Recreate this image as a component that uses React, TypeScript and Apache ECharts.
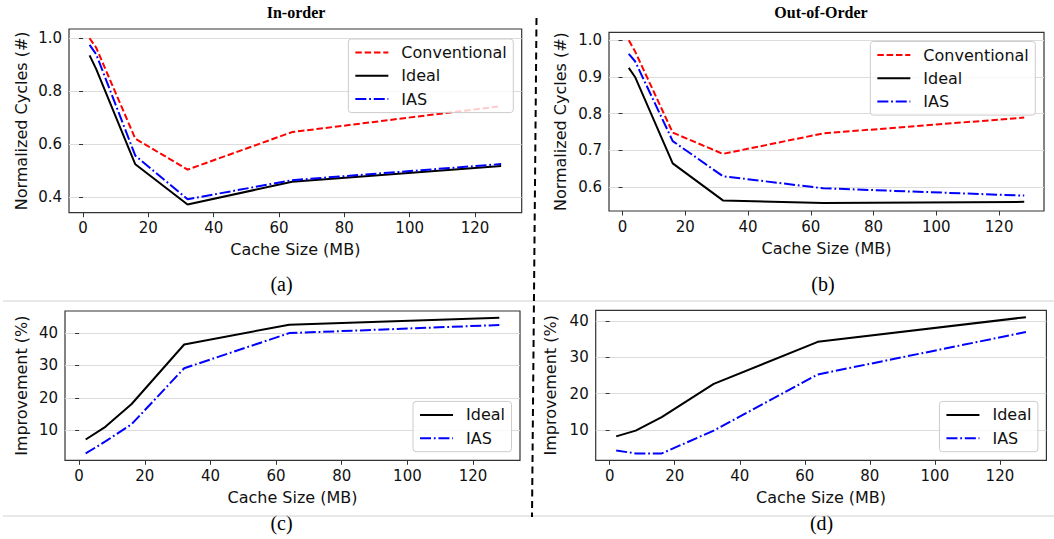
import React, { useEffect, useRef } from "react";
import * as echarts from "echarts";

// ---- data ----
const X_TOP = [2, 4, 16, 32, 64, 128];
const X_BOTTOM = [2, 8, 16, 32, 64, 128];

const A_CONVENTIONAL = [1.0, 0.965, 0.62, 0.503, 0.645, 0.743];
const A_IDEAL = [0.935, 0.884, 0.523, 0.371, 0.457, 0.517];
const A_IAS = [0.975, 0.94, 0.556, 0.391, 0.463, 0.524];

const B_CONVENTIONAL = [1.0, 0.97, 0.748, 0.69, 0.746, 0.789];
const B_IDEAL = [0.925, 0.9, 0.664, 0.563, 0.556, 0.559];
const B_IAS = [0.963, 0.943, 0.725, 0.629, 0.596, 0.576];

const C_IDEAL = [7.2, 11.1, 18.1, 36.4, 42.5, 44.6];
const C_IAS = [2.9, 6.6, 11.9, 29.1, 39.9, 42.4];

const D_IDEAL = [8.2, 9.8, 13.5, 22.7, 34.3, 41.1];
const D_IAS = [4.3, 3.5, 3.5, 9.8, 25.3, 37.0];

const X_TICKS = [0, 20, 40, 60, 80, 100, 120];
const A_Y_TICKS = [0.4, 0.6, 0.8, 1.0];
const B_Y_TICKS = [0.6, 0.7, 0.8, 0.9, 1.0];
const CD_Y_TICKS = [10, 20, 30, 40];

const SERIES_NAMES = ["Conventional", "Ideal", "IAS"];
const PANEL_TITLES = ["In-order", "Out-of-Order"];
const PANEL_LABELS = ["(a)", "(b)", "(c)", "(d)"];

// ---- styles ----
const FONT = "DejaVu Sans";
const SERIF = "Liberation Serif";
const TEXT_COLOR = "#111";
const FRAME = "#333";
const STYLES: Record<string, any> = {
  Conventional: { color: "#ff0000", width: 2, type: [6.5, 2.8] },
  Ideal: { color: "#000000", width: 2, type: "solid" },
  IAS: { color: "#0000ff", width: 2, type: [11, 2.8, 1.8, 2.8] },
};

const pairs = (xs: number[], ys: number[]) => xs.map((x, i) => [x, ys[i]]);

function xAxis(gridIndex: number) {
  return {
    type: "value",
    gridIndex,
    min: -4.3,
    max: 134.3,
    name: "Cache Size (MB)",
    nameLocation: "middle",
    nameGap: 29,
    nameTextStyle: { fontSize: 16, color: TEXT_COLOR, fontFamily: FONT },
    axisLine: { show: false },
    axisTick: { show: true, length: 4.5, customValues: X_TICKS, lineStyle: { color: FRAME, width: 1 } },
    axisLabel: { customValues: X_TICKS, fontSize: 15, color: TEXT_COLOR, fontFamily: FONT, margin: 8 },
    splitLine: { show: false },
  };
}

function yAxis(gridIndex: number, min: number, max: number, ticks: number[], name: string, nameGap: number, digits: number) {
  return {
    type: "value",
    gridIndex,
    min,
    max,
    name,
    nameLocation: "middle",
    nameGap,
    nameTextStyle: { fontSize: 16, color: TEXT_COLOR, fontFamily: FONT },
    axisLine: { show: false },
    axisTick: { show: true, length: 4, customValues: ticks, lineStyle: { color: FRAME, width: 1 } },
    axisLabel: {
      customValues: ticks,
      fontSize: 15,
      color: TEXT_COLOR,
      fontFamily: FONT,
      margin: 7,
      formatter: (v: number) => v.toFixed(digits),
    },
    splitLine: { show: true, lineStyle: { color: "#dcdcdc", width: 1 } },
  };
}

function line(name: string, idx: number, xs: number[], ys: number[]) {
  return {
    type: "line",
    name,
    xAxisIndex: idx,
    yAxisIndex: idx,
    data: pairs(xs, ys),
    symbol: "none",
    showSymbol: false,
    smooth: false,
    lineStyle: STYLES[name],
    itemStyle: { color: STYLES[name].color },
    z: 2,
  };
}

function legend(names: string[], pos: any) {
  return {
    ...pos,
    orient: "vertical",
    data: names,
    selectedMode: false,
    itemWidth: 33,
    itemHeight: 14,
    itemGap: 7.3,
    padding: [5.5, 6.5, 5.5, 6],
    backgroundColor: "rgba(255,255,255,0.8)",
    borderColor: "#cccccc",
    borderWidth: 1,
    borderRadius: 3,
    itemStyle: { color: "transparent", borderColor: "transparent", borderWidth: 0, opacity: 0 },
    textStyle: { fontSize: 16, color: TEXT_COLOR, fontFamily: FONT, lineHeight: 16, padding: [0, 0, 0, 8] },
    z: 10,
  };
}

export default function App() {
  const ref = useRef<HTMLDivElement>(null);
  useEffect(() => {
    document.body.style.margin = "0";
    if (!ref.current) return;
    const chart = echarts.init(ref.current, null, { renderer: "svg" });
    const grids = [
      { left: 69, top: 29, width: 452.7, height: 183.7 },
      { left: 609, top: 32.3, width: 435, height: 178.7 },
      { left: 65, top: 311, width: 455, height: 149.3 },
      { left: 595.7, top: 310.3, width: 450.7, height: 150 },
    ].map((g) => ({
      ...g,
      show: true,
      borderColor: FRAME,
      borderWidth: 1.2,
      backgroundColor: "transparent",
      containLabel: false,
      outerBoundsMode: "none",
    }));

    const option: any = {
      animation: false,
      backgroundColor: "#ffffff",
      textStyle: { fontFamily: FONT },
      grid: grids,
      xAxis: [xAxis(0), xAxis(1), xAxis(2), xAxis(3)],
      yAxis: [
        yAxis(0, 0.34, 1.035, A_Y_TICKS, "Normalized Cycles (#)", 40, 1),
        yAxis(1, 0.534, 1.022, B_Y_TICKS, "Normalized Cycles (#)", 41, 1),
        yAxis(2, 0.8, 46.7, CD_Y_TICKS, "Improvement (%)", 36, 0),
        yAxis(3, 1.6, 43.0, CD_Y_TICKS, "Improvement (%)", 37, 0),
      ],
      legend: [
        legend(SERIES_NAMES, { right: 540.7, top: 39 }),
        legend(SERIES_NAMES, { right: 18.7, top: 41.5 }),
        legend(SERIES_NAMES.slice(1), { right: 542.5, bottom: 87.3 }),
        legend(SERIES_NAMES.slice(1), { right: 16.1, bottom: 87.3 }),
      ],
      series: [
        line("Conventional", 0, X_TOP, A_CONVENTIONAL),
        line("Ideal", 0, X_TOP, A_IDEAL),
        line("IAS", 0, X_TOP, A_IAS),
        line("Conventional", 1, X_TOP, B_CONVENTIONAL),
        line("Ideal", 1, X_TOP, B_IDEAL),
        line("IAS", 1, X_TOP, B_IAS),
        line("Ideal", 2, X_BOTTOM, C_IDEAL),
        line("IAS", 2, X_BOTTOM, C_IAS),
        line("Ideal", 3, X_BOTTOM, D_IDEAL),
        line("IAS", 3, X_BOTTOM, D_IAS),
      ],
      graphic: [
        { type: "line", shape: { x1: 3, y1: 301, x2: 1054, y2: 301 }, style: { stroke: "#d0d0d0", lineWidth: 1 }, z: 1 },
        { type: "line", shape: { x1: 3, y1: 516, x2: 1054, y2: 516 }, style: { stroke: "#d0d0d0", lineWidth: 1 }, z: 1 },
        {
          type: "line",
          shape: { x1: 536.5, y1: 18, x2: 532, y2: 517 },
          style: { stroke: "#000", lineWidth: 2, lineDash: [7, 4.5] },
          z: 1,
        },
        {
          type: "text", x: 296, y: 12,
          style: { text: PANEL_TITLES[0], fill: "#000", font: `bold 16px '${SERIF}'`, textAlign: "center", textVerticalAlign: "middle" },
        },
        {
          type: "text", x: 821, y: 12,
          style: { text: PANEL_TITLES[1], fill: "#000", font: `bold 16px '${SERIF}'`, textAlign: "center", textVerticalAlign: "middle" },
        },
        {
          type: "text", x: 281.5, y: 284.3,
          style: { text: PANEL_LABELS[0], fill: "#000", font: `20px '${SERIF}'`, textAlign: "center", textVerticalAlign: "middle" },
        },
        {
          type: "text", x: 823, y: 284.3,
          style: { text: PANEL_LABELS[1], fill: "#000", font: `20px '${SERIF}'`, textAlign: "center", textVerticalAlign: "middle" },
        },
        {
          type: "text", x: 281.5, y: 523.3,
          style: { text: PANEL_LABELS[2], fill: "#000", font: `20px '${SERIF}'`, textAlign: "center", textVerticalAlign: "middle" },
        },
        {
          type: "text", x: 821.6, y: 523.3,
          style: { text: PANEL_LABELS[3], fill: "#000", font: `20px '${SERIF}'`, textAlign: "center", textVerticalAlign: "middle" },
        },
      ],
    };
    chart.setOption(option);
    return () => chart.dispose();
  }, []);
  return (
    <div
      ref={ref}
      style={{ position: "fixed", left: 0, top: 0, width: 1054, height: 539, background: "#fff" }}
    />
  );
}
